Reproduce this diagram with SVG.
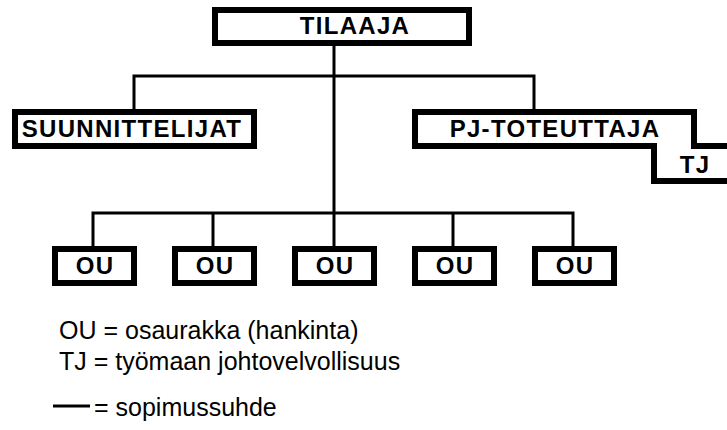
<svg xmlns="http://www.w3.org/2000/svg" width="727" height="430" viewBox="0 0 727 430">
  <style>
    .box { fill: #fff; stroke: #000; stroke-width: 6; }
    .step { fill: none; stroke: #000; stroke-width: 6; }
    .lbl { font-family: "Liberation Sans", Arial, sans-serif; font-weight: bold; font-size: 24px; letter-spacing: 1.3px; fill: #000; text-anchor: middle; }
    .leg { font-family: "Liberation Sans", Arial, sans-serif; font-size: 25px; fill: #000; }
    .wire { fill: none; stroke: #000; stroke-width: 3; }
  </style>
  <rect width="727" height="430" fill="#fff"/>

  <!-- contract lines -->
  <g id="connectors">
    <path class="wire" d="M334 46 V247"/>
    <path class="wire" d="M134 109 V76 H534 V109"/>
    <path class="wire" d="M93 247 V213 H573 V247"/>
    <path class="wire" d="M213 213 V247"/>
    <path class="wire" d="M453 213 V247"/>
  </g>

  <g id="tilaaja">
    <rect class="box" x="215" y="10" width="254" height="33"/>
    <text class="lbl" x="355" y="34">TILAAJA</text>
  </g>

  <g id="suunnittelijat">
    <rect class="box" x="15" y="112" width="239" height="34"/>
    <text class="lbl" x="132" y="137">SUUNNITTELIJAT</text>
  </g>

  <g id="pj-toteuttaja">
    <path class="step" d="M730 146 H694 V112 H415 V146 H654 V181 H730"/>
    <text class="lbl" x="555" y="137">PJ-TOTEUTTAJA</text>
    <text class="lbl" x="695" y="173">TJ</text>
  </g>

  <g id="ou1">
    <rect class="box" x="55" y="249" width="79" height="34"/>
    <text class="lbl" x="95" y="274">OU</text>
  </g>
  <g id="ou2">
    <rect class="box" x="175" y="249" width="79" height="34"/>
    <text class="lbl" x="215" y="274">OU</text>
  </g>
  <g id="ou3">
    <rect class="box" x="295" y="249" width="79" height="34"/>
    <text class="lbl" x="335" y="274">OU</text>
  </g>
  <g id="ou4">
    <rect class="box" x="415" y="249" width="79" height="34"/>
    <text class="lbl" x="455" y="274">OU</text>
  </g>
  <g id="ou5">
    <rect class="box" x="535" y="249" width="79" height="34"/>
    <text class="lbl" x="575" y="274">OU</text>
  </g>

  <!-- legend -->
  <g id="legend">
    <text class="leg" x="59" y="339">OU = osaurakka (hankinta)</text>
    <text class="leg" x="59" y="370">TJ = työmaan johtovelvollisuus</text>
    <line class="wire" x1="53" y1="406" x2="90" y2="406"/>
    <text class="leg" x="94" y="416">= sopimussuhde</text>
  </g>
</svg>
